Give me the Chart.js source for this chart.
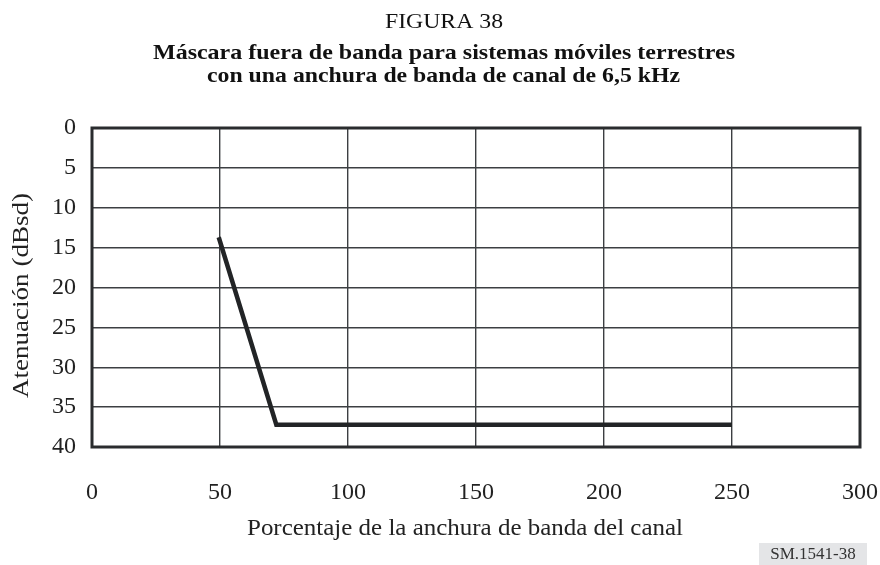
<!DOCTYPE html>
<html>
<head>
<meta charset="utf-8">
<script src="https://cdn.jsdelivr.net/npm/chart.js@4/dist/chart.umd.min.js"></script>
<style>
  html, body { margin: 0; padding: 0; background: #fff; }
  #wrap { width: 880px; height: 565px; position: relative; }
</style>
</head>
<body>
<div id="wrap"><canvas id="maskChart"></canvas></div>
<script>
// Mask points: percentage of channel bandwidth vs attenuation (dBsd)
const bandwidthPct = [49.5, 72, 250];
const attenuation = [13.7, 37.2, 37.2];

const xTicks = [0, 50, 100, 150, 200, 250, 300];
const yTicks = [0, 5, 10, 15, 20, 25, 30, 35, 40];

const figureLabel = 'FIGURA 38';
const titleLines = [
    'Máscara fuera de banda para sistemas móviles terrestres',
    'con una anchura de banda de canal de 6,5 kHz'
];
const xTitle = 'Porcentaje de la anchura de banda del canal';
const yTitle = 'Atenuación (dBsd)';
const refCode = 'SM.1541-38';

const SERIF = '"Liberation Serif", "Times New Roman", serif';
Chart.defaults.font.family = SERIF;
Chart.defaults.color = '#222';

// draw text centred on cx, stretched horizontally to a given width
function fitText(ctx, text, cx, baseline, width, font) {
    ctx.font = font;
    const w = ctx.measureText(text).width;
    ctx.save();
    ctx.translate(cx, baseline);
    ctx.scale(width / w, 1);
    ctx.textAlign = 'center';
    ctx.textBaseline = 'alphabetic';
    ctx.fillText(text, 0, 0);
    ctx.restore();
}

// Titles, axis captions, frame and figure code
const textPlugin = {
    id: 'figureText',
    afterDraw(chart) {
        const { ctx, chartArea } = chart;
        ctx.save();

        // frame around plot
        ctx.strokeStyle = '#2a2c2e';
        ctx.lineWidth = 3;
        ctx.strokeRect(chartArea.left, chartArea.top,
            chartArea.right - chartArea.left, chartArea.bottom - chartArea.top);

        ctx.fillStyle = '#111';
        fitText(ctx, figureLabel, 444, 28, 118, '22px ' + SERIF);
        fitText(ctx, titleLines[0], 444, 59, 582, 'bold 21px ' + SERIF);
        fitText(ctx, titleLines[1], 443.5, 82, 473, 'bold 21px ' + SERIF);

        ctx.fillStyle = '#222';
        fitText(ctx, xTitle, 465, 535, 436, '23px ' + SERIF);

        ctx.save();
        ctx.translate(28, 0);
        ctx.rotate(-Math.PI / 2);
        fitText(ctx, yTitle, -295.5, 0, 205, '24px ' + SERIF);
        ctx.restore();

        ctx.fillStyle = '#e4e5e7';
        ctx.fillRect(759, 543, 108, 22);
        ctx.fillStyle = '#333';
        ctx.font = '17px ' + SERIF;
        ctx.textAlign = 'center';
        ctx.textBaseline = 'middle';
        ctx.fillText(refCode, 813, 555);

        ctx.restore();
    }
};

new Chart(document.getElementById('maskChart'), {
    type: 'scatter',
    data: {
        datasets: [{
            data: bandwidthPct.map((x, i) => ({ x: x, y: attenuation[i] })),
            showLine: true,
            borderColor: '#222426',
            borderWidth: 4.5,
            pointRadius: 0,
            tension: 0,
            borderCapStyle: 'butt',
            borderJoinStyle: 'miter'
        }]
    },
    options: {
        responsive: true,
        maintainAspectRatio: false,
        animation: false,
        layout: { padding: { top: 128, left: 0, right: 20, bottom: 0 } },
        plugins: {
            legend: { display: false },
            tooltip: { enabled: false }
        },
        scales: {
            x: {
                type: 'linear',
                min: 0,
                max: 300,
                afterBuildTicks: scale => { scale.ticks = xTicks.map(v => ({ value: v })); },
                afterFit: scale => {
                    scale.height = 118;
                    scale.paddingLeft = 0;
                    scale.paddingRight = 0;
                },
                grid: { color: '#3c3f42', lineWidth: 1.4, drawTicks: false },
                border: { display: false },
                ticks: { padding: 31, maxRotation: 0, font: { size: 24 }, color: '#222' }
            },
            y: {
                type: 'linear',
                reverse: true,
                min: 0,
                max: 40,
                afterBuildTicks: scale => { scale.ticks = yTicks.map(v => ({ value: v })); },
                afterFit: scale => {
                    scale.width = 92;
                    scale.paddingTop = 0;
                    scale.paddingBottom = 0;
                },
                grid: { color: '#3c3f42', lineWidth: 1.4, drawTicks: false },
                border: { display: false },
                ticks: { padding: 16, font: { size: 24 }, color: '#222' }
            }
        }
    },
    plugins: [textPlugin]
});
</script>
</body>
</html>
